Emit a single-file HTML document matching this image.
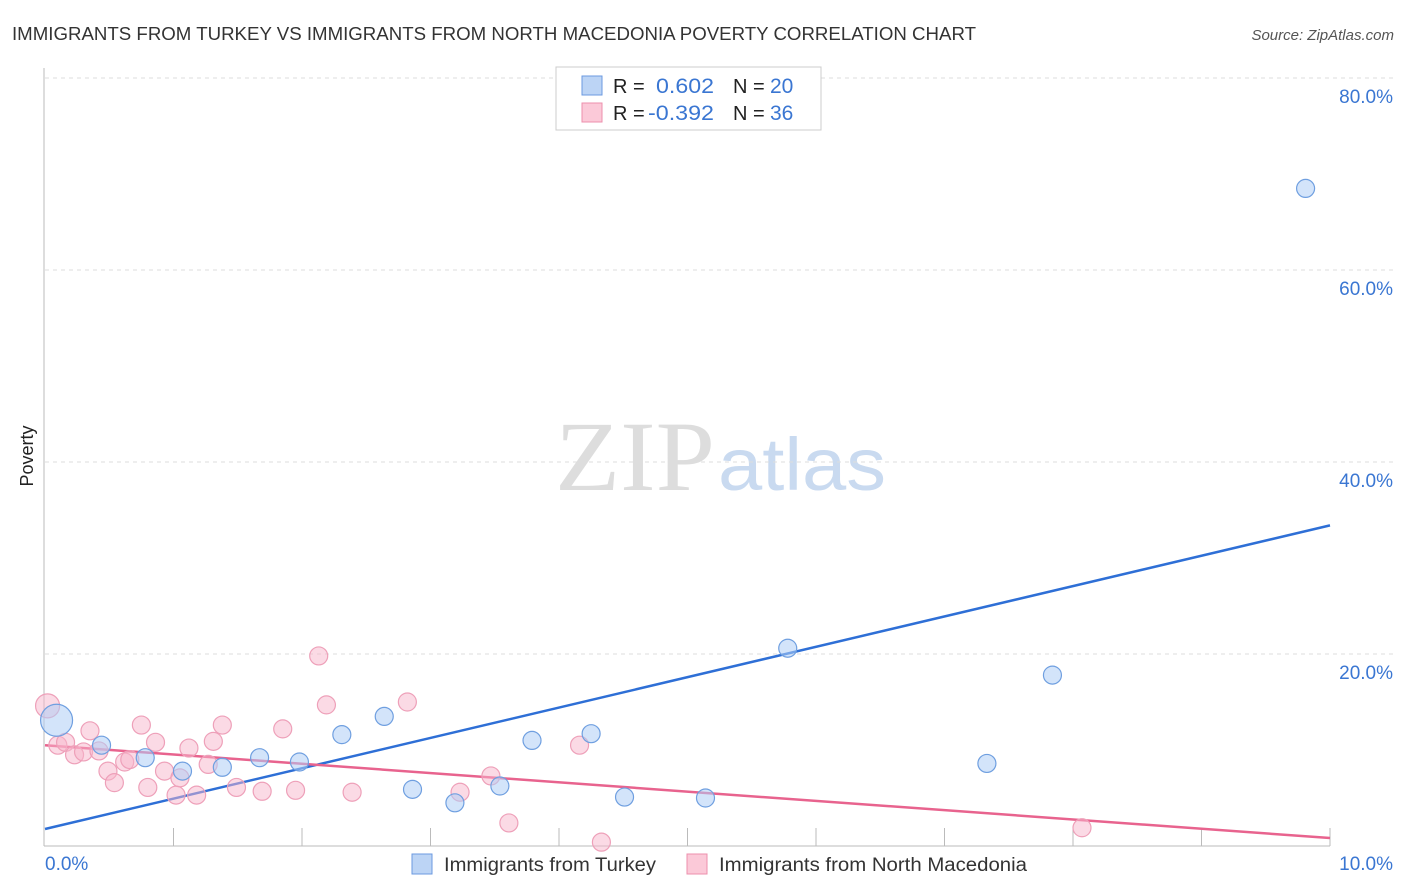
<!DOCTYPE html>
<html><head><meta charset="utf-8"><style>
body{margin:0;background:#fff;font-family:"Liberation Sans",sans-serif}
svg{display:block}
</style></head><body>
<svg id="c" width="1406" height="892">
<text x="12" y="40" font-size="18" fill="#333" textLength="964" lengthAdjust="spacingAndGlyphs">IMMIGRANTS FROM TURKEY VS IMMIGRANTS FROM NORTH MACEDONIA POVERTY CORRELATION CHART</text>
<text x="1394" y="40" font-size="15" fill="#555" font-style="italic" text-anchor="end">Source: ZipAtlas.com</text>
<text x="0" y="0" transform="translate(33,456) rotate(-90)" font-size="18" fill="#222" text-anchor="middle">Poverty</text>
<g><text x="555" y="490" font-size="100" font-family="Liberation Serif,serif" fill="#ddd" textLength="160" lengthAdjust="spacingAndGlyphs">ZIP</text><text x="718" y="490" font-size="74" fill="#c9daf0" textLength="168" lengthAdjust="spacingAndGlyphs">atlas</text></g>
<g id="grid"></g><g id="axes"></g><g id="lines"></g><g id="pts"></g>
<g>
<rect x="556" y="67" width="265" height="63" fill="#fff" stroke="#ccc"/>
<rect x="582" y="76" width="20" height="19" fill="#bcd4f5" stroke="#6b9ae0"/>
<rect x="582" y="103" width="20" height="19" fill="#fbc9d8" stroke="#ec8fac"/>
<text x="613" y="93" font-size="20" fill="#222">R =</text>
<text x="656" y="93" font-size="21" fill="#3a76d2" textLength="58" lengthAdjust="spacingAndGlyphs">0.602</text>
<text x="733" y="93" font-size="20" fill="#222">N =</text>
<text x="770" y="93" font-size="21" fill="#3a76d2">20</text>
<text x="613" y="120" font-size="20" fill="#222">R =</text>
<text x="648" y="120" font-size="21" fill="#3a76d2" textLength="66" lengthAdjust="spacingAndGlyphs">-0.392</text>
<text x="733" y="120" font-size="20" fill="#222">N =</text>
<text x="770" y="120" font-size="21" fill="#3a76d2">36</text>
</g>
<g>
<rect x="412" y="854" width="20" height="20" fill="#bcd4f5" stroke="#6b9ae0"/>
<text x="444" y="871" font-size="19" fill="#333" textLength="212" lengthAdjust="spacingAndGlyphs">Immigrants from Turkey</text>
<rect x="687" y="854" width="20" height="20" fill="#fbc9d8" stroke="#ec8fac"/>
<text x="719" y="871" font-size="19" fill="#333" textLength="308" lengthAdjust="spacingAndGlyphs">Immigrants from North Macedonia</text>
</g>
</svg>
<script>
const blueX=[0.09,0.44,0.78,1.07,1.38,1.67,1.98,2.31,2.64,2.86,3.19,3.54,3.79,4.25,4.51,5.14,5.78,7.33,7.84,9.81];
const blueY=[13.1,10.5,9.2,7.8,8.2,9.2,8.75,11.6,13.5,5.9,4.5,6.25,11.0,11.7,5.1,5.0,20.6,8.6,17.8,68.5];
const blueR=[16,9,9,9,9,9,9,9,9,9,9,9,9,9,9,9,9,9,9,9];
const pinkX=[0.02,0.10,0.16,0.23,0.30,0.35,0.42,0.49,0.54,0.62,0.66,0.75,0.80,0.86,0.93,1.02,1.05,1.12,1.18,1.27,1.31,1.38,1.49,1.69,1.85,1.95,2.13,2.19,2.39,2.82,3.23,3.47,3.61,4.16,4.33,8.07];
const pinkY=[14.6,10.5,10.8,9.5,9.8,12.0,9.9,7.8,6.6,8.75,9.0,12.6,6.1,10.8,7.8,5.3,7.1,10.2,5.3,8.5,10.9,12.6,6.1,5.7,12.2,5.8,19.8,14.7,5.6,15.0,5.6,7.3,2.4,10.5,0.4,1.9];
const blueLine=[1.77,33.4];
const pinkLine=[10.5,0.83];
const yTicks=[20,40,60,80];
const yTickLabels=["20.0%","40.0%","60.0%","80.0%"];
const xTickCount=10;
const NS="http://www.w3.org/2000/svg";
const sx=v=>45+v*128.5, sy=v=>846-v*9.6;
function mk(t,a,p){const e=document.createElementNS(NS,t);for(const k in a)e.setAttribute(k,a[k]);document.getElementById(p).appendChild(e);return e;}
yTicks.forEach((t,i)=>{
 const g=mk('line',{x1:45,x2:1395,y1:sy(t),y2:sy(t),stroke:'#ddd','stroke-dasharray':'4,4'},'grid');
 
 
 const l=mk('text',{x:1393,y:sy(t)+25,'font-size':19,fill:'#3a76d2','text-anchor':'end'},'grid');
 l.textContent=yTickLabels[i];
 
 
});
let a=mk('line',{x1:44,x2:44,y1:68,y2:846,stroke:'#bbb'},'axes');


a=mk('line',{x1:44,x2:1330,y1:846,y2:846,stroke:'#bbb'},'axes');


for(let i=1;i<=xTickCount;i++){const t=mk('line',{x1:sx(i),x2:sx(i),y1:828,y2:846,stroke:'#bbb'},'axes');
 
 }
let xl=mk('text',{x:45,y:870,'font-size':19,fill:'#3a76d2'},'axes');xl.textContent='0.0%';


xl=mk('text',{x:1393,y:870,'font-size':19,fill:'#3a76d2','text-anchor':'end'},'axes');xl.textContent='10.0%';


pinkX.forEach((x,i)=>{const c=mk('circle',{cx:sx(x),cy:sy(pinkY[i]),r:i==0?12:9,fill:'rgba(248,182,204,0.5)',stroke:'#eea0b9','stroke-width':1.2},'pts');
 
 });
blueX.forEach((x,i)=>{const c=mk('circle',{cx:sx(x),cy:sy(blueY[i]),r:blueR[i],fill:'rgba(175,205,245,0.55)',stroke:'#6f9fe0','stroke-width':1.2},'pts');
 
 });
let tl=mk('line',{x1:sx(0),x2:sx(10),y1:sy(blueLine[0]),y2:sy(blueLine[1]),stroke:'#2e6fd6','stroke-width':2.5},'lines');


tl=mk('line',{x1:sx(0),x2:sx(10),y1:sy(pinkLine[0]),y2:sy(pinkLine[1]),stroke:'#e8638e','stroke-width':2.5},'lines');


</script>
</body></html>
